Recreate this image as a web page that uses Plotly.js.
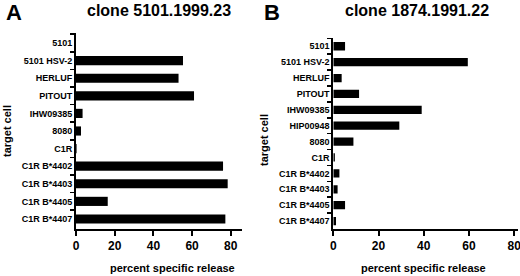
<!DOCTYPE html>
<html>
<head>
<meta charset="utf-8">
<script src="https://cdn.plot.ly/plotly-3.0.1.min.js"></script>
<style>html,body{margin:0;padding:0;background:#fff;}#chart{width:520px;height:276px;}</style>
</head>
<body>
<div id="chart"></div>
<script>
const catsA = ["5101", "5101 HSV-2", "HERLUF", "PITOUT", "IHW09385", "8080", "C1R", "C1R B*4402", "C1R B*4403", "C1R B*4405", "C1R B*4407"];
const valsA = [0, 55.3, 53, 61, 3.4, 2.6, 0.3, 76, 78.4, 16.4, 77.2];
const catsB = ["5101", "5101 HSV-2", "HERLUF", "PITOUT", "IHW09385", "HIP00948", "8080", "C1R", "C1R B*4402", "C1R B*4403", "C1R B*4405", "C1R B*4407"];
const valsB = [5.2, 59.5, 3.7, 11.4, 39.1, 29.2, 8.9, 0.7, 2.7, 1.9, 5.2, 1.2];
const xTicks = [0, 20, 40, 60, 80];
const titleA = "clone 5101.1999.23";
const titleB = "clone 1874.1991.22";
const xTitle = "percent specific release";
const yTitle = "target cell";

const FONT = "Liberation Sans, Arial, sans-serif";
const W = 520, H = 276;
const px = x => x / W;
const py = y => 1 - y / H;

const traces = [
  {type: "bar", orientation: "h", x: valsA, y: catsA, xaxis: "x", yaxis: "y",
   marker: {color: "#000"}, width: 0.52, hoverinfo: "skip"},
  {type: "bar", orientation: "h", x: valsB, y: catsB, xaxis: "x2", yaxis: "y2",
   marker: {color: "#000"}, width: 0.52, hoverinfo: "skip"}
];

const xCommon = {
  tickvals: xTicks, ticktext: xTicks.map(String), ticks: "outside", ticklen: 5, tickwidth: 2,
  tickcolor: "#000", showline: true, linecolor: "#000", linewidth: 2, showgrid: false,
  zeroline: false, ticklabeloverflow: "allow",
  tickfont: {family: FONT, size: 12, color: "#000", weight: "bold"}, fixedrange: true
};
const yCommon = {
  type: "category", ticks: "outside", tickson: "boundaries", ticklen: 4, tickwidth: 1.5,
  tickcolor: "#000", showline: true, linecolor: "#000", linewidth: 2, showgrid: false,
  zeroline: false, tickfont: {family: FONT, size: 9, color: "#000", weight: "bold"}, fixedrange: true
};

const ann = (text, x, y, size, extra) => Object.assign({
  text: "<b>" + text + "</b>", x: px(x), y: py(y), xref: "paper", yref: "paper",
  showarrow: false, xanchor: "center", yanchor: "middle",
  font: {family: FONT, size: size, color: "#000"}
}, extra || {});

const layout = {
  width: W, height: H, margin: {l: 0, r: 0, t: 0, b: 0},
  paper_bgcolor: "#fff", plot_bgcolor: "#fff", showlegend: false, bargap: 0.45,
  xaxis: Object.assign({}, xCommon, {domain: [px(76), px(242)], range: [0, 85.8], anchor: "y"}),
  yaxis: Object.assign({}, yCommon, {domain: [py(229), py(33)], range: [10.57, -0.57],
    categoryorder: "array", categoryarray: catsA, anchor: "x"}),
  xaxis2: Object.assign({}, xCommon, {domain: [px(333.3), px(518)], range: [0, 81.7], anchor: "y2"}),
  yaxis2: Object.assign({}, yCommon, {domain: [py(229), py(38.3)], range: [11.5, -0.5],
    categoryorder: "array", categoryarray: catsB, anchor: "x2"}),
  annotations: [
    ann("A", 13.5, 13, 22),
    ann("B", 272, 13, 22),
    ann(titleA, 159, 10, 16),
    ann(titleB, 417, 10, 16),
    ann(xTitle, 172, 267.7, 11),
    ann(xTitle, 423.7, 267.7, 11),
    ann(yTitle, 7, 131, 11, {textangle: -90}),
    ann(yTitle, 264, 140, 11, {textangle: -90})
  ]
};

Plotly.newPlot("chart", traces, layout, {staticPlot: true, displayModeBar: false});
</script>
</body>
</html>
